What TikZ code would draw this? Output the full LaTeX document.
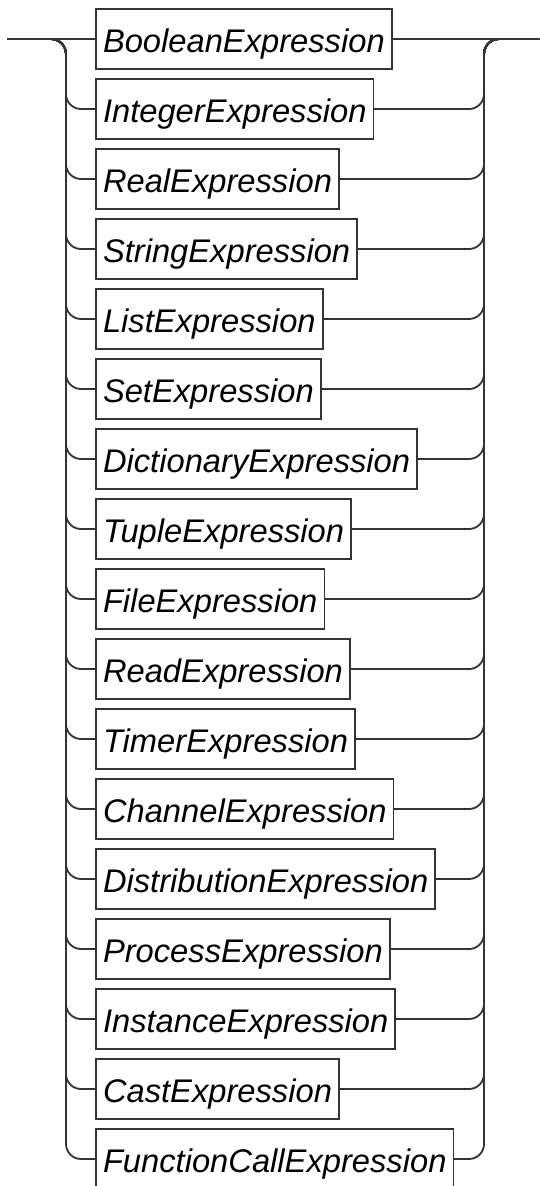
\documentclass[tikz,border=0pt]{standalone}
\usepackage{fontspec}
\setmainfont{Liberation Sans}
\usepackage{tikz}
\usetikzlibrary{positioning}
\definecolor{cRail}{HTML}{333333}

\begin{document}
\begin{tikzpicture}[
    x=1pt, y=-1pt,
    font=\fontsize{32.7}{39}\selectfont\itshape,
    expr/.style={draw=cRail, line width=1.8pt, minimum height=60pt, outer sep=0pt,
                 inner xsep=7pt, inner ysep=0pt, text height=30pt, text depth=4pt},
    rail/.style={draw=cRail, line width=1.8pt, rounded corners=15pt},
    stack/.style={below=10pt of #1.south west, anchor=north west},
  ]
  \clip (0,0) rectangle (539,1186);
  \coordinate (in) at (7,39);
  \coordinate (out) at (545,39);
  \coordinate (lrail) at (66,39);
  \coordinate (rrail) at (484,39);
  \node[expr, anchor=west] (e1) at (96,39) {BooleanExpression};
  \node[expr, stack=e1] (e2) {IntegerExpression};
  \node[expr, stack=e2] (e3) {RealExpression};
  \node[expr, stack=e3] (e4) {StringExpression};
  \node[expr, stack=e4] (e5) {ListExpression};
  \node[expr, stack=e5] (e6) {SetExpression};
  \node[expr, stack=e6] (e7) {DictionaryExpression};
  \node[expr, stack=e7] (e8) {TupleExpression};
  \node[expr, stack=e8] (e9) {FileExpression};
  \node[expr, stack=e9] (e10) {ReadExpression};
  \node[expr, stack=e10] (e11) {TimerExpression};
  \node[expr, stack=e11] (e12) {ChannelExpression};
  \node[expr, stack=e12] (e13) {DistributionExpression};
  \node[expr, stack=e13] (e14) {ProcessExpression};
  \node[expr, stack=e14] (e15) {InstanceExpression};
  \node[expr, stack=e15] (e16) {CastExpression};
  \node[expr, stack=e16] (e17) {FunctionCallExpression};
  % main line through the first choice
  \draw[rail] (in) -- (e1.west) (e1.east) -- (out);
  % branches
  \draw[rail] (in) -| (lrail |- e2.west) -- (e2.west) (e2.east) -| (rrail) -- (out);
  \draw[rail] (in) -| (lrail |- e3.west) -- (e3.west) (e3.east) -| (rrail) -- (out);
  \draw[rail] (in) -| (lrail |- e4.west) -- (e4.west) (e4.east) -| (rrail) -- (out);
  \draw[rail] (in) -| (lrail |- e5.west) -- (e5.west) (e5.east) -| (rrail) -- (out);
  \draw[rail] (in) -| (lrail |- e6.west) -- (e6.west) (e6.east) -| (rrail) -- (out);
  \draw[rail] (in) -| (lrail |- e7.west) -- (e7.west) (e7.east) -| (rrail) -- (out);
  \draw[rail] (in) -| (lrail |- e8.west) -- (e8.west) (e8.east) -| (rrail) -- (out);
  \draw[rail] (in) -| (lrail |- e9.west) -- (e9.west) (e9.east) -| (rrail) -- (out);
  \draw[rail] (in) -| (lrail |- e10.west) -- (e10.west) (e10.east) -| (rrail) -- (out);
  \draw[rail] (in) -| (lrail |- e11.west) -- (e11.west) (e11.east) -| (rrail) -- (out);
  \draw[rail] (in) -| (lrail |- e12.west) -- (e12.west) (e12.east) -| (rrail) -- (out);
  \draw[rail] (in) -| (lrail |- e13.west) -- (e13.west) (e13.east) -| (rrail) -- (out);
  \draw[rail] (in) -| (lrail |- e14.west) -- (e14.west) (e14.east) -| (rrail) -- (out);
  \draw[rail] (in) -| (lrail |- e15.west) -- (e15.west) (e15.east) -| (rrail) -- (out);
  \draw[rail] (in) -| (lrail |- e16.west) -- (e16.west) (e16.east) -| (rrail) -- (out);
  \draw[rail] (in) -| (lrail |- e17.west) -- (e17.west) (e17.east) -| (rrail) -- (out);
\end{tikzpicture}
\end{document}
